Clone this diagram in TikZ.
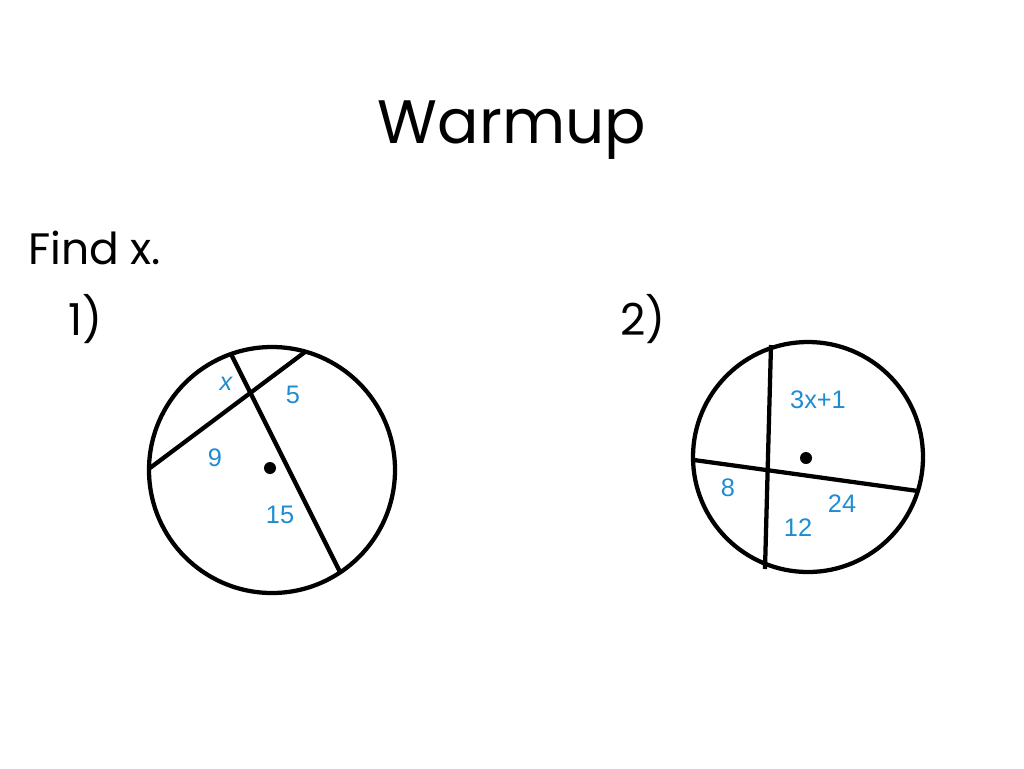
\documentclass[tikz,border=0pt]{standalone}
\usepackage{fontspec}
\setmainfont{Poppins}
\newfontfamily\labelfont{Liberation Sans}
\usetikzlibrary{positioning}
\definecolor{lblue}{RGB}{30,140,210}
\tikzset{
  rim/.style={line width=3.2pt},
  chord/.style={line width=3.2pt},
  val/.style={text=lblue, font=\labelfont\fontsize{19}{19}\selectfont, inner sep=0pt},
  hdr/.style={anchor=base west, inner sep=0pt}
}
\begin{document}
\begin{tikzpicture}[x=0.75pt, y=-0.75pt]
    \useasboundingbox (0,0) rectangle (1024,768);
    \node (title) at (512,130) {\fontsize{46}{46}\selectfont Warmup};
    \node[hdr] (find) at (28,264) {\fontsize{33}{33}\selectfont Find x.};
    \node[hdr] (one) at (68,335) {\fontsize{33}{33}\selectfont 1)};
    \node[hdr] (two) at (620,335) {\fontsize{33}{33}\selectfont 2)};

    % circle 1
    \begin{scope}
    \draw[rim] (272,470) circle[radius=123];
    \fill (270,468) circle[radius=6];
    \coordinate (a1) at (231,354);
    \coordinate (a2) at (340,572);
    \coordinate (b1) at (150,468);
    \coordinate (b2) at (305,352);
    \draw[chord] (a1) -- (a2);
    \draw[chord] (b1) -- (b2);
    \node[val] (lx) at (226,384) {\itshape x};
    \node[val] (l5) at (293,395) {5};
    \node[val] (l9) at (215,458) {9};
    \node[val] (l15) at (280,515) {15};
    \end{scope}

    % circle 2
    \begin{scope}
    \draw[rim] (808,457) circle[radius=115];
    \fill (806,458) circle[radius=6];
    \coordinate (c1) at (771,345);
    \coordinate (c2) at (765,569);
    \coordinate (d1) at (694,460);
    \coordinate (d2) at (918,491);
    \draw[chord] (c1) -- (c2);
    \draw[chord] (d1) -- (d2);
    \node[val] (l3x) at (818,400) {3x+1};
    \node[val] (l8) at (728,488) {8};
    \node[val] (l24) at (842,504) {24};
    \node[val] (l12) at (798,528) {12};
    \end{scope}
\end{tikzpicture}
\end{document}
